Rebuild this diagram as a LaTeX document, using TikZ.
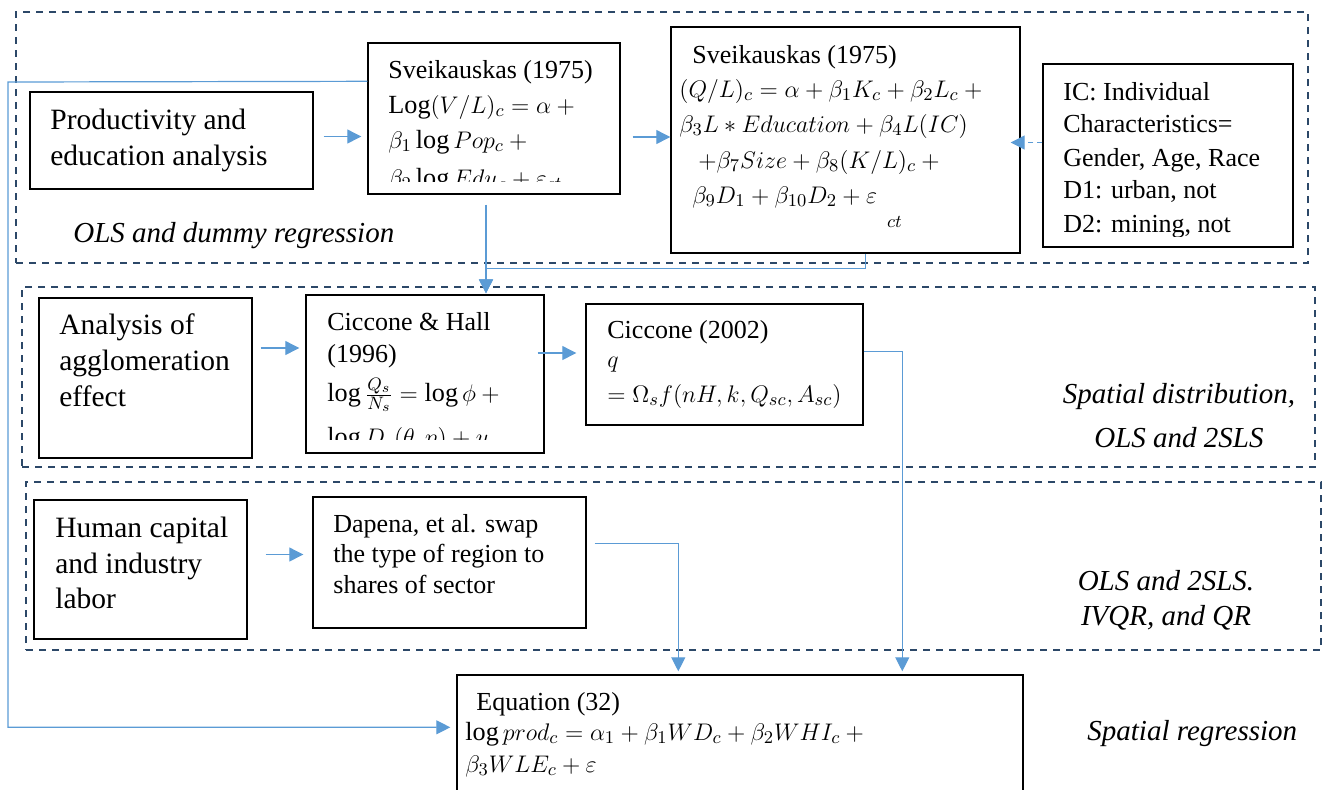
\documentclass[tikz,border=0pt]{standalone}
\usepackage{fontspec}
\setmainfont{Liberation Serif}
\usetikzlibrary{arrows.meta,fit,calc}
\definecolor{framecol}{RGB}{44,72,104}
\definecolor{linkcol}{RGB}{91,155,213}

\begin{document}
\begin{tikzpicture}[x=0.5pt,y=-0.5pt,
  group/.style={draw=framecol,line width=0.8pt,dash pattern=on 3.5pt off 3pt,inner sep=0pt},
  box/.style={draw=black,line width=0.7pt,inner sep=0pt},
  link/.style={draw=linkcol,line width=0.6pt,-{Triangle[length=7pt,width=7pt]}},
  big/.style={font=\fontsize{14.75}{18}\selectfont,anchor=base west,inner sep=0pt},
  small/.style={font=\fontsize{13}{15}\selectfont,anchor=base west,inner sep=0pt},
  eqn/.style={font=\fontsize{13.1}{16}\selectfont,anchor=base west,inner sep=0pt},
  note/.style={font=\fontsize{14.5}{18}\selectfont\itshape,anchor=base,inner sep=0pt}]
\useasboundingbox (0,0) rectangle (1324,789);

% method groups
\node[group,fit={(16,12) (1308,263)}] (g1) {};
\node[group,fit={(22,287) (1315,467)}] (g2) {};
\node[group,fit={(26,482) (1321,650)}] (g3) {};

% boxes
\node[box,fit={(30,92) (313,189)}] (prod) {};
\node[box,fit={(368,43) (620,194)}] (s1) {};
\node[box,fit={(671,27) (1020,253)}] (s2) {};
\node[box,fit={(1043,64) (1293,247)}] (ic) {};
\node[box,fit={(39,298) (252,458)}] (agg) {};
\node[box,fit={(306,295) (544,453)}] (ch) {};
\node[box,fit={(586,304) (863,425)}] (c02) {};
\node[box,fit={(34,500) (247,639)}] (hum) {};
\node[box,fit={(313,497) (586,628)}] (dap) {};
\node[box,fit={(457,675) (1023,800)}] (eq) {};

% first row
\node[big] (p1) at (50,129) {Productivity and};
\node[big] (p2) at (50,165) {education analysis};

\begin{scope}
\clip (369,44) rectangle (619,181);
\node[small] (s1a) at (388,78) {Sveikauskas (1975)};
\node[eqn] (s1b) at (388,113) {Log$(V/L)_c=\alpha+{}$};
\node[eqn] (s1c) at (388,148) {$\beta_1\log Pop_c+{}$};
\node[eqn] (s1d) at (388,186) {$\beta_2\log Edu_c+\varepsilon_{ct}$};
\end{scope}

\node[small] (s2a) at (692,63) {Sveikauskas (1975)};
\node[eqn] (s2b) at (679,97) {$(Q/L)_c=\alpha+\beta_1K_c+\beta_2L_c+{}$};
\node[eqn] (s2c) at (679,132) {$\beta_3L\ast Education+\beta_4L(IC)$};
\node[eqn] (s2d) at (698,168) {$+\beta_7Size+\beta_8(K/L)_c+{}$};
\node[eqn] (s2e) at (692,203) {$\beta_9D_{1}+\beta_{10}D_2+\varepsilon$\hspace{5pt}\raisebox{-12pt}{$\scriptstyle ct$}};

\begin{scope}
\clip (1044,65) rectangle (1292,236);
\node[small] (ic1) at (1063,100) {IC: Individual};
\node[small] (ic2) at (1063,132) {Characteristics=};
\node[small] (ic3) at (1063,166) {Gender, Age, Race};
\node[small] (ic4) at (1063,198) {D1: urban, not};
\node[small] (ic5) at (1063,232) {D2: mining, not};
\end{scope}

\node[note,anchor=base west] (n1) at (73,242) {OLS and dummy regression};

% second row
\node[big] (a1) at (59,334) {Analysis of};
\node[big] (a2) at (59,370) {agglomeration};
\node[big] (a3) at (59,406) {effect};

\begin{scope}
\clip (307,296) rectangle (543,439);
\node[small] (ch1) at (327,330) {Ciccone \& Hall};
\node[small] (ch2) at (327,362) {(1996)};
\node[eqn] (ch3) at (327,401) {$\log\frac{Q_s}{N_s}=\log\phi+{}$};
\node[eqn] (ch4) at (327,445) {$\log D_s(\theta,\eta)+u$};
\end{scope}

\node[small] (c1) at (607,338) {Ciccone (2002)};
\node[eqn] (c2) at (607,367) {$q$};
\node[eqn,font=\fontsize{12.6}{16}\selectfont] (c3) at (607,402) {$=\Omega_sf(nH,k,Q_{sc},A_{sc})$};

\node[note] (n2a) at (1179,403) {Spatial distribution,};
\node[note] (n2b) at (1179,447) {OLS and 2SLS};

% third row
\node[big] (h1) at (55,537) {Human capital};
\node[big] (h2) at (55,573) {and industry};
\node[big] (h3) at (55,608) {labor};

\node[small] (d1) at (333,532) {Dapena, et al. swap};
\node[small] (d2) at (333,562) {the type of region to};
\node[small] (d3) at (333,593) {shares of sector};

\node[note] (n3a) at (1166,590) {OLS and 2SLS.};
\node[note] (n3b) at (1166,625) {IVQR, and QR};

% result
\node[small] (e1) at (476,710) {Equation (32)};
\node[eqn] (e2) at (465,740) {$\log prod_c=\alpha_1+\beta_1WD_c+\beta_2WHI_c+{}$};
\node[eqn] (e3) at (465,772) {$\beta_3WLE_c+\varepsilon$};
\node[note,anchor=base west] (n4) at (1087,740) {Spatial regression};

% connectors
\draw[link] ($(prod.east)+(10,-4)$) coordinate (k1) -- ($(k1 -| s1.west)+(-6,0)$);
\draw[link] ($(s1.east |- s2.west)+(12,-3)$) coordinate (k2) -- (k2 -| s2.west);
\draw[link,dash pattern=on 2.5pt off 2pt] ($(ic.west)+(0,-13)$) coordinate (k3) -- ($(k3 -| s2.east)+(-10,0)$);
\draw[link] ($(s1.south)+(-8,10)$) coordinate (k4) -- ($(k4 |- ch.north)+(0,-1)$);
\draw[link] ($(s2.south)+(20,0)$) |- ($(k4)+(0,64)$) -- ($(k4 |- ch.north)+(0,-1)$);
\draw[link] ($(s1.north west)+(0,39)$) -- (8,82) |- ($(eq.north west)+(-6,53)$);
\draw[link] ($(agg.east)+(8,-30)$) coordinate (k5) -- ($(k5 -| ch.west)+(-6,0)$);
\draw[link] ($(ch.east)+(-7,-21)$) coordinate (k6) -- ($(k6 -| c02.west)+(-9,0)$);
\draw[link] ($(c02.east)+(0,-13)$) -| ($(eq.north west)+(446,-3)$);
\draw[link] ($(hum.east)+(18,-15)$) coordinate (k7) -- ($(k7 -| dap.west)+(-9,0)$);
\draw[link] ($(dap.east)+(8,-19)$) -| ($(eq.north west)+(222,-3)$);
\end{tikzpicture}
\end{document}
